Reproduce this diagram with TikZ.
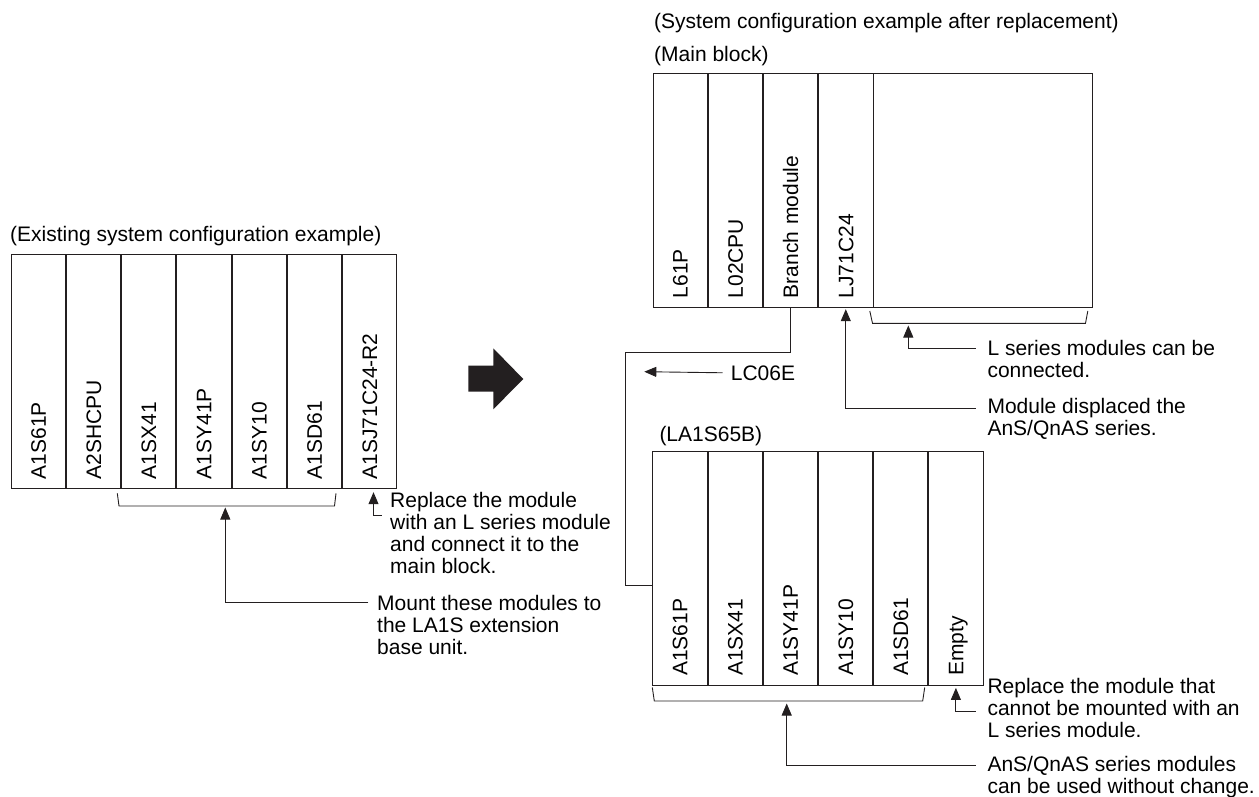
\documentclass[tikz,border=0pt]{standalone}
\usepackage{fontspec}
\setmainfont{Liberation Sans}
\usetikzlibrary{arrows.meta}

\definecolor{ink}{HTML}{231F20}

\begin{document}
\begin{tikzpicture}[
                x=1pt, y=-1pt,
                module/.style={
                    draw=ink,
                    line width=0.9pt,
                    rotate=90,
                    anchor=north east,
                    minimum width=234pt,
                    minimum height=54.3pt,
                    text width=215pt,
                    inner xsep=9.5pt,
                    inner ysep=0pt,
                    text height=15pt,
                    text depth=0pt,
                    align=left,
                    font=\fontsize{21}{22}\selectfont
                },
                heading/.style={
                    anchor=base west,
                    inner sep=0pt,
                    font=\fontsize{21}{22}\selectfont
                },
                note/.style={
                    anchor=base west,
                    align=left,
                    inner sep=0pt,
                    font=\fontsize{21}{22}\selectfont
                },
                lead/.style={
                    draw=ink,
                    line width=0.9pt,
                    -{Triangle[width=10pt,length=12pt]}
                },
                cable/.style={
                    draw=ink,
                    line width=0.9pt
                },
                brace/.style={
                    draw=ink,
                    line width=0.9pt
                }
            ]

                \useasboundingbox (0,0) rectangle (1259,796);

                % existing system
                \node[heading] (t1) at (10,241.7) {(Existing system configuration example)};

                \node[module] (e1) at (10.7,254.3) {A1S61P};
                \node[module] (e2) at (e1.south east) {A2SHCPU};
                \node[module] (e3) at (e2.south east) {A1SX41};
                \node[module] (e4) at (e3.south east) {A1SY41P};
                \node[module] (e5) at (e4.south east) {A1SY10};
                \node[module] (e6) at (e5.south east) {A1SD61};
                \node[module] (e7) at (e6.south east) {A1SJ71C24-R2};

                \draw[brace] (117.3,493.3) -- (119,506) -- (334.5,506) -- (336,493.3);
                \coordinate (k1) at (225.3,507.5);

                % base anchor sits on the last line
                \node[note] (n1) at (390,573.5) {Replace the module\\with an L series module\\and connect it to the\\main block.};
                \node[note] (n2) at (377,654) {Mount these modules to\\the LA1S extension\\base unit.};

                \coordinate (p1) at (381.7,515);
                \coordinate (p2) at (368.3,602.7);
                \draw[lead] (p1) -| ([xshift=4pt,yshift=-3pt]e7.west);
                \draw[lead] (p2) -| (k1);

                % big arrow
                \fill[ink] (468.3,365.7) -- (493.3,365.7) -- (493.3,348.3) -- (523.3,379)
                    -- (493.3,409.3) -- (493.3,391.7) -- (468.3,391.7) -- cycle;

                % main block
                \node[heading] (t2) at (654,28.3) {(System configuration example after replacement)};
                \node[heading] (t3) at (654,61.7) {(Main block)};

                \node[module] (m1) at (652.6,73.3) {L61P};
                \node[module] (m2) at (m1.south east) {L02CPU};
                \node[module] (m3) at (m2.south east) {Branch module};
                \node[module] (m4) at (m3.south east) {LJ71C24};
                \node[module, minimum height=218.5pt] (m5) at (m4.south east) {};

                \draw[brace] (869.8,311) -- (872.5,323.3) -- (1085.5,323.3) -- (1087.8,311);
                \coordinate (k2) at (908.3,325.5);

                \node[note] (n3) at (987.3,377) {L series modules can be\\connected.};
                \node[note] (n4) at (987.3,435) {Module displaced the\\AnS/QnAS series.};

                \coordinate (p3) at (975.7,348.3);
                \coordinate (p4) at (975.7,408.3);
                \draw[lead] (p3) -| (k2);
                \draw[lead] (p4) -| ([yshift=-1pt]m4.west);

                % cable to extension base
                \node[note] (lc) at (730.7,380) {LC06E};
                \coordinate (c1) at (625.7,352.7);
                \coordinate (c2) at (652.3,585);
                \coordinate (c3) at (644.3,371.7);
                \draw[cable] (m3.west) |- (c1) |- (c2);
                \draw[lead] ([xshift=-8pt]lc.west) -- (c3);

                % extension base
                \node[heading] (t4) at (659.3,441.5) {(LA1S65B)};

                \node[module] (b1) at (652.3,451) {A1S61P};
                \node[module] (b2) at (b1.south east) {A1SX41};
                \node[module] (b3) at (b2.south east) {A1SY41P};
                \node[module] (b4) at (b3.south east) {A1SY10};
                \node[module] (b5) at (b4.south east) {A1SD61};
                \node[module] (b6) at (b5.south east) {Empty};

                \draw[brace] (652.3,687.5) -- (654.3,701) -- (922.7,701) -- (924.7,687.5);
                \coordinate (k3) at (786.7,703.5);

                \node[note] (n5) at (987.3,737) {Replace the module that\\cannot be mounted with an\\L series module.};
                \node[note] (n6) at (987.3,793.7) {AnS/QnAS series modules\\can be used without change.};

                \coordinate (p5) at (975.7,711.7);
                \coordinate (p6) at (975.7,765.7);
                \draw[lead] (p5) -| ([yshift=-2pt]b6.west);
                \draw[lead] (p6) -| (k3);

            \end{tikzpicture}
\end{document}
